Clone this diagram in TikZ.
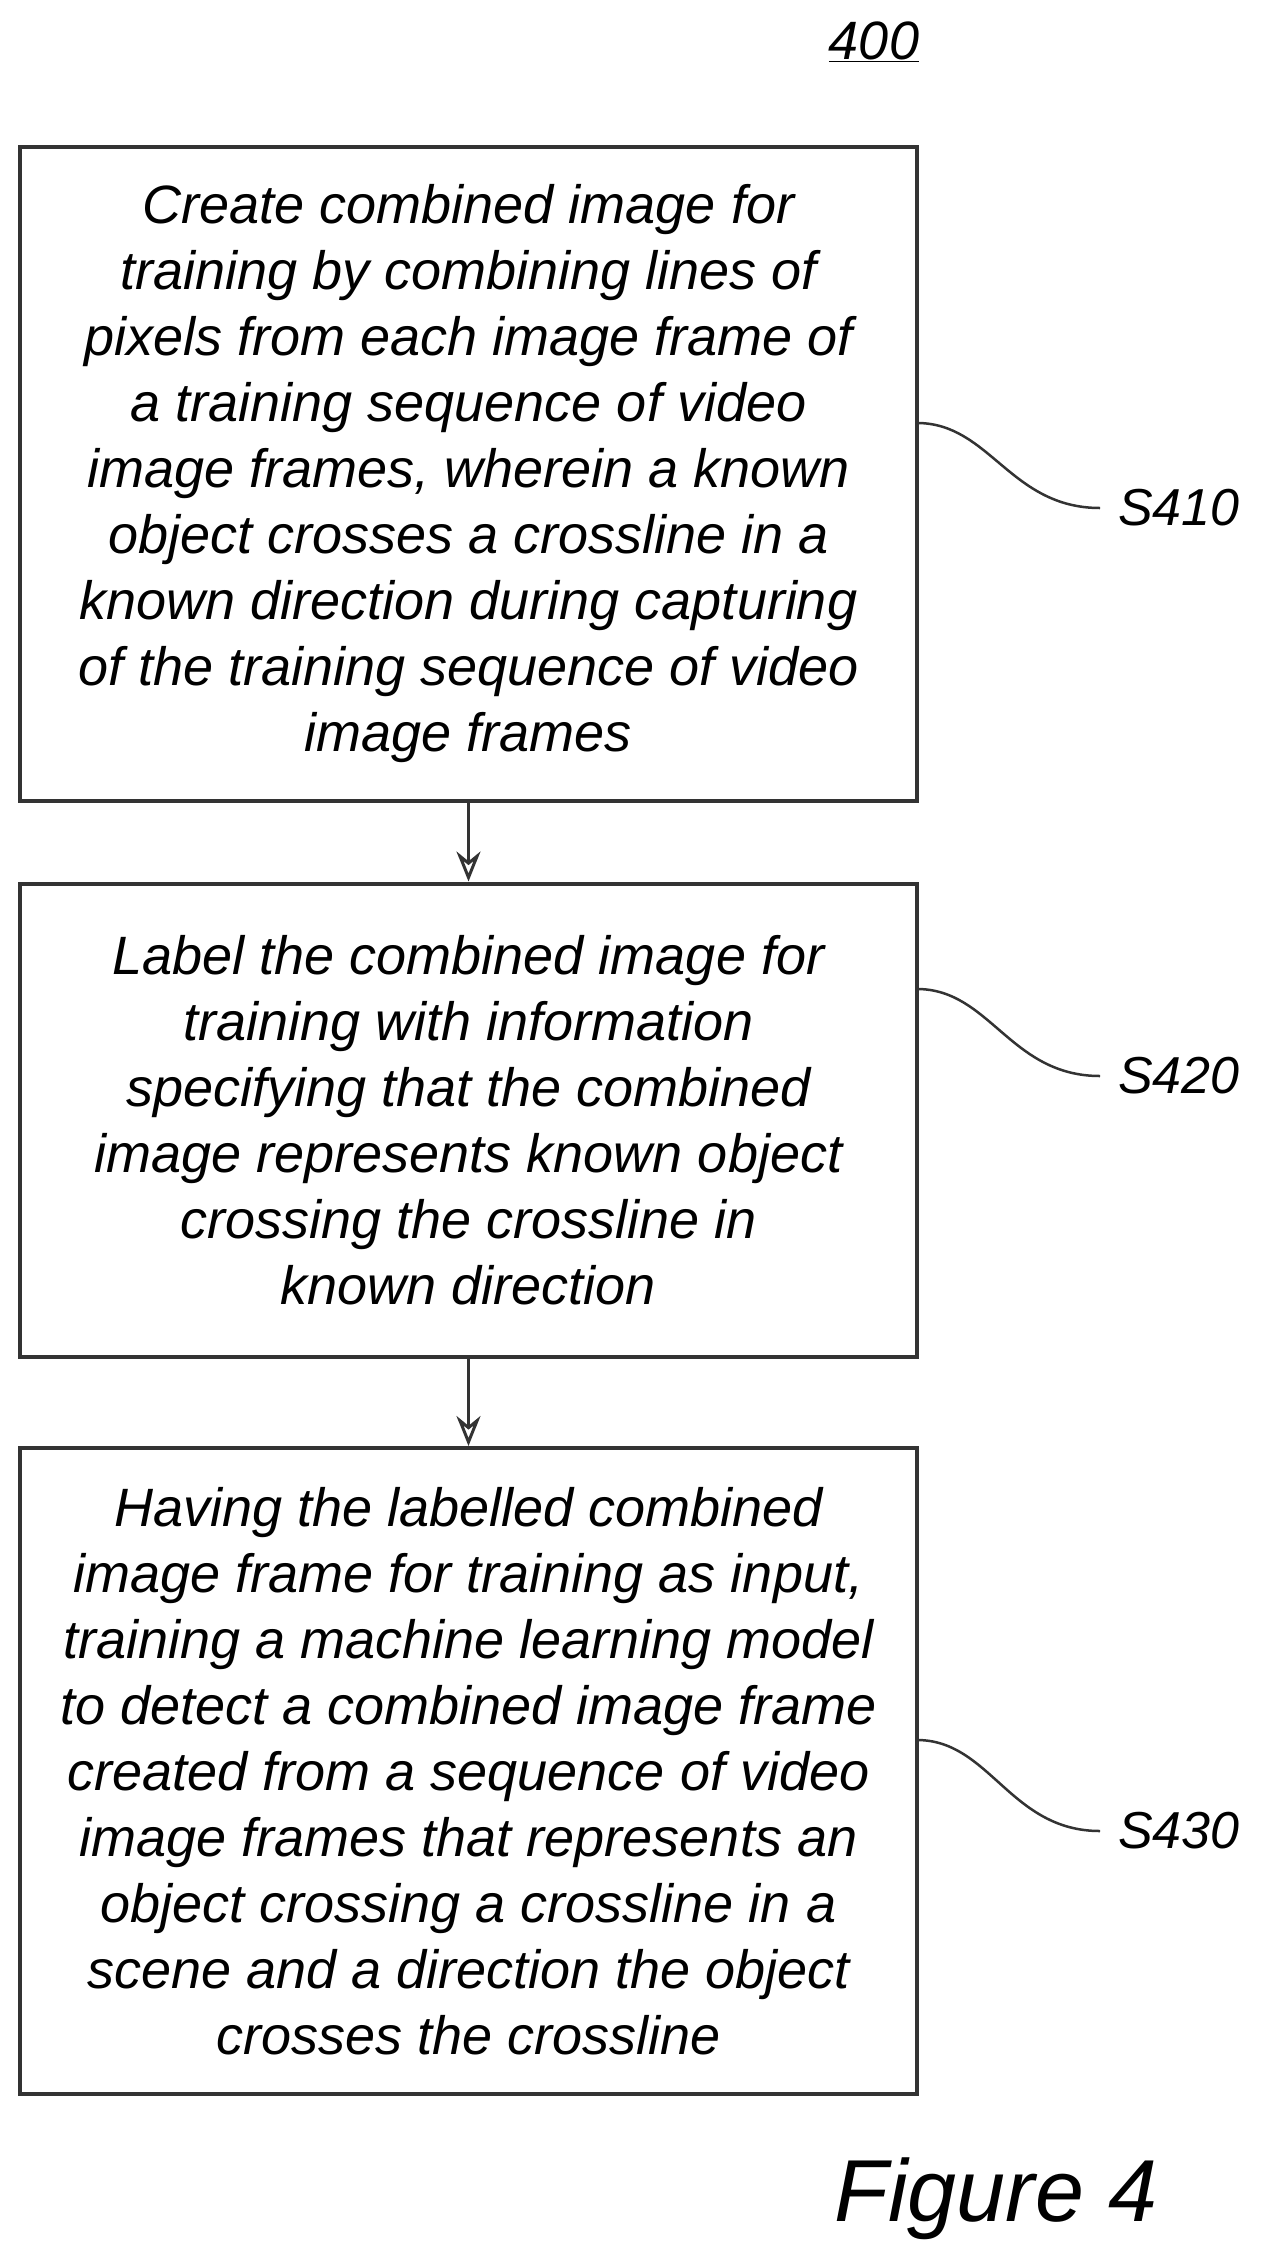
\documentclass[tikz,border=0pt]{standalone}
\usepackage{fontspec}
\setmainfont{Liberation Sans}
\usetikzlibrary{arrows.meta}
\begin{document}
\begin{tikzpicture}[x=1pt,y=-1pt,
  box/.style={draw=black!80,line width=4pt,minimum width=897pt,inner sep=0pt,align=center,
    font=\fontsize{54}{66}\selectfont\itshape},
  lab/.style={font=\fontsize{52}{60}\selectfont\itshape,anchor=west,inner sep=0pt},
  squig/.style={draw=black!80,line width=2.5pt},
  arr/.style={draw=black!80,line width=3pt,-{Stealth[length=30pt,width=24pt,open]}}]
\useasboundingbox (0,0) rectangle (1262,2260);
\node[font=\fontsize{54}{60}\selectfont\itshape,inner sep=0pt] (n400) at (874,42) {\underline{400}};
\node[box,minimum height=654pt] (b1) at (468.5,474) {Create combined image for\\training by combining lines of\\pixels from each image frame of\\a training sequence of video\\image frames, wherein a known\\object crosses a crossline in a\\known direction during capturing\\of the training sequence of video\\image frames};
\node[box,minimum height=473pt] (b2) at (468.5,1120) {Label the combined image for\\training with information\\specifying that the combined\\image represents known object\\crossing the crossline in\\known direction};
\node[box,minimum height=646pt] (b3) at (468.5,1771) {Having the labelled combined\\image frame for training as input,\\training a machine learning model\\to detect a combined image frame\\created from a sequence of video\\image frames that represents an\\object crossing a crossline in a\\scene and a direction the object\\crosses the crossline};
\draw[arr] (b1.south) -- (b2.north);
\draw[arr] (b2.south) -- (b3.north);
\node[lab] (l1) at (1118,508) {S410};
\node[lab] (l2) at (1118,1076) {S420};
\node[lab] (l3) at (1118,1831) {S430};
\coordinate (c1) at (917,423);
\coordinate (c2) at (917,989);
\coordinate (c3) at (917,1740);
\draw[squig] (c1) .. controls (990,423) and (1010,508) .. (1100,508);
\draw[squig] (c2) .. controls (990,989) and (1010,1076) .. (1100,1076);
\draw[squig] (c3) .. controls (990,1740) and (1010,1831) .. (1100,1831);
\node[font=\fontsize{88}{100}\selectfont\itshape,inner sep=0pt] (fig) at (996,2199) {Figure 4};
\end{tikzpicture}
\end{document}
